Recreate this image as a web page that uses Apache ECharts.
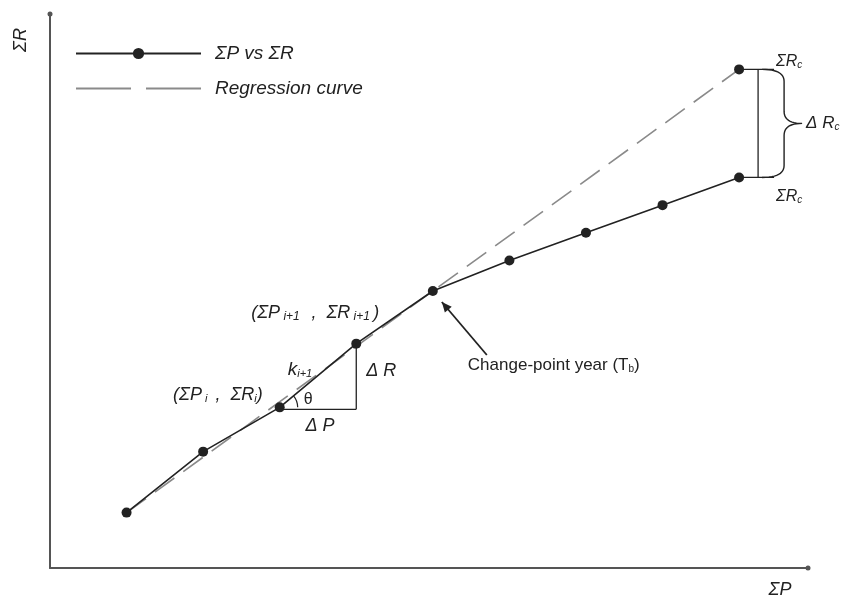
<!DOCTYPE html>
<html>
<head>
<meta charset="utf-8">
<script src="https://cdn.jsdelivr.net/npm/echarts@6/dist/echarts.min.js"></script>
<style>
  html, body { margin: 0; padding: 0; background: #fff; }
  #chart { width: 850px; height: 602px; }
</style>
</head>
<body>
<div id="chart"></div>
<script>
// Cumulative precipitation (ΣP) and cumulative runoff (ΣR), one point per year
const sumP = [1, 2, 3, 4, 5, 6, 7, 8, 9];
const sumR = [1.0, 2.1, 2.9, 4.05, 5.0, 5.55, 6.05, 6.55, 7.05];

// Regression line fitted on the pre-change period, extended to the last year
const regP = [1, 9];
const regR = [1, 9];

// Index of the change-point year and of the slope example pair (i, i+1)
const changeIdx = 4;
const slopeIdx = 2;

const FONT = '"Liberation Sans", Arial, sans-serif';
const INK = '#222';

const chart = echarts.init(document.getElementById('chart'));

const mainData = sumP.map((p, i) => [p, sumR[i]]);
const regData = regP.map((p, i) => [p, regR[i]]);
const regEnd = [[regP[regP.length - 1], regR[regR.length - 1]]];

chart.setOption({
  animation: false,
  backgroundColor: '#fff',
  grid: { left: 50, right: 42, top: 14, bottom: 34 },
  xAxis: {
    type: 'value', min: 0, max: 9.9,
    axisLine: { show: true, symbol: ['none', 'circle'], symbolSize: [5, 5],
                lineStyle: { color: '#555', width: 2 } },
    axisTick: { show: false }, axisLabel: { show: false }, splitLine: { show: false }
  },
  yAxis: {
    type: 'value', min: 0, max: 10,
    axisLine: { show: true, symbol: ['none', 'circle'], symbolSize: [5, 5],
                lineStyle: { color: '#555', width: 2 } },
    axisTick: { show: false }, axisLabel: { show: false }, splitLine: { show: false }
  },
  legend: {
    orient: 'vertical', left: 75, top: 44, itemGap: 16,
    itemWidth: 125, itemHeight: 14, padding: 0,
    textStyle: { fontFamily: FONT, fontStyle: 'italic', fontSize: 19, color: INK, padding: [0, 0, 0, 9] },
    data: [
      'ΣP vs ΣR',
      { name: 'Regression curve', itemStyle: { opacity: 0 }, lineStyle: { type: [55, 15] } }
    ]
  },
  series: [
    {
      name: 'Regression curve', type: 'line', data: regData,
      symbol: 'none', z: 2,
      lineStyle: { color: '#8a8a8a', width: 1.6, type: [24, 11] },
      itemStyle: { color: '#8a8a8a' }
    },
    {
      name: 'Regression end', type: 'scatter', data: regEnd, z: 4,
      symbol: 'circle', symbolSize: 10, itemStyle: { color: INK, opacity: 1 }
    },
    {
      name: 'ΣP vs ΣR', type: 'line', data: mainData, z: 3,
      symbol: 'circle', symbolSize: 10,
      lineStyle: { color: INK, width: 1.6 },
      itemStyle: { color: INK }
    }
  ]
});

// ---- annotations, positioned from data coordinates ----
const px = (p, r) => chart.convertToPixel({ gridIndex: 0 }, [p, r]);

const mathText = (x, y, rich, align, size) => ({
  type: 'text', x, y, z: 10,
  style: {
    text: rich.text, rich: rich.styles, align: align || 'left', verticalAlign: 'middle',
    fontFamily: FONT, fontStyle: 'italic', fontSize: size || 15, fill: INK
  }
});

const subStyles = (size, subSize) => ({
  b: { fontFamily: FONT, fontStyle: 'italic', fontSize: size, fill: INK },
  u: { fontFamily: FONT, fontSize: size, fill: INK },
  s: { fontFamily: FONT, fontStyle: 'italic', fontSize: subSize || Math.round(size * 0.6), fill: INK,
       padding: [size * 0.45, 0, 0, 0] }
});

const elems = [];
const lineEl = (x1, y1, x2, y2, w) => ({
  type: 'line', z: 10, shape: { x1, y1, x2, y2 },
  style: { stroke: INK, lineWidth: w || 1.3 }
});

// slope triangle between year i and year i+1
const a = px(sumP[slopeIdx], sumR[slopeIdx]);
const b = px(sumP[slopeIdx + 1], sumR[slopeIdx + 1]);
const cornerY = a[1] + 2;
elems.push(lineEl(a[0], cornerY, b[0], cornerY));
elems.push(lineEl(b[0], cornerY, b[0], b[1]));
const ang = Math.atan2(b[1] - a[1], b[0] - a[0]);
elems.push({
  type: 'arc', z: 10,
  shape: { cx: a[0], cy: a[1], r: 18, startAngle: ang, endAngle: 0, clockwise: true },
  style: { stroke: INK, lineWidth: 1.2, fill: 'none' }
});
elems.push(mathText(a[0] + 24, a[1] - 8, { text: '{u|θ}', styles: subStyles(16) }, 'left', 16));
elems.push(mathText(a[0] + 8, a[1] - 38, { text: '{b|k}{s|i+1}', styles: subStyles(19) }, 'left', 19));
elems.push(mathText(b[0] + 10, b[1] + 27, { text: '{b|Δ R}', styles: subStyles(18) }, 'left', 18));
elems.push(mathText((a[0] + b[0]) / 2 + 2, cornerY + 17, { text: '{b|Δ P}', styles: subStyles(18) }, 'center', 18));
elems.push(mathText(a[0] - 17, a[1] - 12,
  { text: '{b|(ΣP}{s| i }{b| ,  ΣR}{s|i}{b|)}', styles: subStyles(18) }, 'right', 18));
elems.push(mathText(b[0] - 105, b[1] - 31,
  { text: '{b|(ΣP}{s| i+1  }{b| ,  ΣR}{s| i+1 }{b|)}', styles: subStyles(18, 12) }, 'left', 18));

// change-point pointer
const c = px(sumP[changeIdx], sumR[changeIdx]);
const tip = [c[0] + 9, c[1] + 11];
const tail = [c[0] + 54, c[1] + 64];
elems.push(lineEl(tail[0], tail[1], tip[0], tip[1], 1.8));
const dir = Math.atan2(tip[1] - tail[1], tip[0] - tail[0]);
const ah = 10, aw = 4.5;
const bx = tip[0] - ah * Math.cos(dir), by = tip[1] - ah * Math.sin(dir);
elems.push({
  type: 'polygon', z: 10,
  shape: { points: [tip,
    [bx + aw * Math.sin(dir), by - aw * Math.cos(dir)],
    [bx - aw * Math.sin(dir), by + aw * Math.cos(dir)]] },
  style: { fill: INK }
});
elems.push({
  type: 'text', x: c[0] + 35, y: c[1] + 74, z: 10,
  style: {
    text: '{n|Change-point year (T}{s|b}{n|)}', verticalAlign: 'middle',
    rich: {
      n: { fontFamily: FONT, fontSize: 17, fill: INK },
      s: { fontFamily: FONT, fontSize: 10, fill: INK, padding: [8, 0, 0, 0] }
    }
  }
});

// runoff reduction ΔRc between regression and observed at the last year
const n = sumP.length - 1;
const pTop = px(regP[regP.length - 1], regR[regR.length - 1]);
const pBot = px(sumP[n], sumR[n]);
const vx = pTop[0] + 19;
elems.push(lineEl(pTop[0], pTop[1], pTop[0] + 35, pTop[1]));
elems.push(lineEl(pBot[0], pBot[1], pBot[0] + 35, pBot[1]));
elems.push(lineEl(vx, pTop[1], vx, pBot[1]));

// curly brace built from quadratic segments sampled into a polyline
const quad = (p0, p1, p2, out) => {
  for (let k = 0; k <= 12; k++) {
    const t = k / 12, u = 1 - t;
    out.push([u * u * p0[0] + 2 * u * t * p1[0] + t * t * p2[0],
              u * u * p0[1] + 2 * u * t * p1[1] + t * t * p2[1]]);
  }
};
const x0 = vx + 4, h = 22, w = 40, mid = (pTop[1] + pBot[1]) / 2, rr = 12;
const brace = [];
quad([x0, pTop[1]], [x0 + h, pTop[1]], [x0 + h, pTop[1] + rr], brace);
quad([x0 + h, mid - rr], [x0 + h, mid], [x0 + w, mid], brace);
quad([x0 + w, mid], [x0 + h, mid], [x0 + h, mid + rr], brace);
quad([x0 + h, pBot[1] - rr], [x0 + h, pBot[1]], [x0, pBot[1]], brace);
elems.push({
  type: 'polyline', z: 10, shape: { points: brace },
  style: { stroke: INK, lineWidth: 1.4, fill: 'none' }
});
elems.push(mathText(x0 + w + 4, mid, { text: '{b|Δ R}{s|c}', styles: subStyles(17) }, 'left', 17));
elems.push(mathText(pTop[0] + 37, pTop[1] - 8, { text: '{b|ΣR}{s|c}', styles: subStyles(16) }, 'left', 16));
elems.push(mathText(pBot[0] + 37, pBot[1] + 19, { text: '{b|ΣR}{s|c}', styles: subStyles(16) }, 'left', 16));

// axis titles
elems.push({
  type: 'text', x: 21, y: 40, rotation: Math.PI / 2, z: 10,
  style: { text: 'ΣR', align: 'center', verticalAlign: 'middle',
           fontFamily: FONT, fontStyle: 'italic', fontSize: 18, fill: INK }
});
elems.push({
  type: 'text', x: 780, y: 590, z: 10,
  style: { text: 'ΣP', align: 'center', verticalAlign: 'middle',
           fontFamily: FONT, fontStyle: 'italic', fontSize: 18, fill: INK }
});

chart.setOption({ graphic: { elements: elems } });
</script>
</body>
</html>
